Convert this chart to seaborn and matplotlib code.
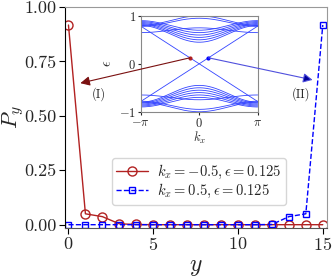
import numpy as np
import pandas as pd
import matplotlib
matplotlib.use("Agg")
import matplotlib.pyplot as plt
import seaborn as sns

# site probabilities for the two edge states
sites = list(range(16))
p_left = [0.917, 0.05, 0.037, 0.004, 0.001, 0.0, 0.0, 0.0, 0.0, 0.0, 0.0, 0.0, 0.0, 0.0, 0.0, 0.0]
p_right = [0.0, 0.0, 0.0, 0.0, 0.0, 0.0, 0.0, 0.0, 0.0, 0.0, 0.0, 0.0, 0.001, 0.037, 0.05, 0.917]

# inset band structure: bulk band energy at k=0 and at k=+-pi
band_mid = [0.45, 0.5, 0.55, 0.6, 0.65, 0.7, 0.75, 0.95, 1.0]
band_edge = [0.8, 0.82, 0.84, 0.86, 0.88, 0.9, 0.65, 0.78, 0.8]
edge_slope = 0.25
k_marks = [-0.5, 0.5]
e_marks = [0.125, 0.125]

sns.set_style("ticks")
plt.rcParams['font.family'] = 'serif'
plt.rcParams['font.serif'] = ['cmr10', 'DejaVu Serif']
plt.rcParams['mathtext.fontset'] = 'cm'
plt.rcParams['axes.formatter.use_mathtext'] = True

fig = plt.figure(figsize=(3.32, 2.78), dpi=100)
ax = fig.add_axes([0.196, 0.18, 0.789, 0.795])

df = pd.DataFrame({"y": sites, "left": p_left, "right": p_right})
sns.lineplot(data=df, x="y", y="left", ax=ax, color="#b22222", lw=1, marker="o",
             ms=6.5, mfc="none", mec="#b22222", mew=1,
             label=r"$k_x=-0.5, \epsilon=0.125$")
sns.lineplot(data=df, x="y", y="right", ax=ax, color="#0000ff", lw=1, ls="--", marker="s",
             ms=5, mfc="none", mec="#0000ff", mew=1,
             label=r"$k_x=0.5, \epsilon=0.125$")

ax.set_xlim(-0.2, 15.25)
ax.set_ylim(-0.015, 1.0)
ax.set_xticks([0, 5, 10, 15])
ax.set_yticks([0, 0.25, 0.5, 0.75, 1.0])
ax.set_yticklabels(["0.00", "0.25", "0.50", "0.75", "1.00"])
ax.tick_params(labelsize=13, length=4, width=0.8, color="black", pad=2)
ax.set_xlabel(r"$y$", fontsize=17, labelpad=2)
ax.set_ylabel(r"$P_y$", fontsize=16, labelpad=-1)
ax.spines["left"].set_color("black")
ax.spines["bottom"].set_color("#555555")
ax.spines["top"].set_color("#999999")
ax.spines["right"].set_color("#999999")

leg = ax.legend(loc="center", bbox_to_anchor=(0.51, 0.21), fontsize=10.5,
                frameon=True, handlelength=2.2, borderpad=0.3, labelspacing=0.1,
                handletextpad=0.6)
leg.get_frame().set_edgecolor("#cccccc")

ax.text(1.8, 0.6, "(I)", fontsize=9, ha="center", va="center")
ax.text(13.7, 0.6, "(II)", fontsize=9, ha="center", va="center")

# inset
ins = fig.add_axes([0.424, 0.598, 0.352, 0.345])
k = np.linspace(-np.pi, np.pi, 200)
for mid, edge in zip(band_mid, band_edge):
    shape = (1 + np.cos(k)) / 2
    e = edge + (mid - edge) * shape
    ins.plot(k, e, color="#3344ff", lw=0.6)
    ins.plot(k, -e, color="#3344ff", lw=0.6)
ins.plot(k, -edge_slope * k, color="#3344ff", lw=0.6)
ins.plot(k, edge_slope * k, color="#3344ff", lw=0.6)
ins.plot(k_marks[0], e_marks[0], "o", color="#b22222", ms=2)
ins.plot(k_marks[1], e_marks[1], "o", color="blue", ms=2)
ins.set_xlim(-np.pi, np.pi)
ins.set_ylim(-1, 1)
ins.set_xticks([-np.pi, 0, np.pi])
ins.set_xticklabels([r"$-\pi$", r"$0$", r"$\pi$"])
ins.set_yticks([-1, 0, 1])
ins.set_yticklabels([r"$-1$", r"$0$", r"$1$"])
ins.tick_params(labelsize=9, length=2.5, pad=1)
ins.set_xlabel(r"$k_x$", fontsize=9, labelpad=0)
ins.set_ylabel(r"$\epsilon$", fontsize=10, labelpad=3)
for s in ins.spines.values():
    s.set_color("#888888")

# arrows from the inset markers to the edges, drawn on top of the inset
ins.annotate("", xy=(0.7, 0.65), xycoords=ax.transData,
             xytext=(k_marks[0], e_marks[0]), textcoords="data",
             annotation_clip=False,
             arrowprops=dict(arrowstyle="-|>", color="#7a1010", lw=0.8,
                             mutation_scale=14, shrinkA=0, shrinkB=0))
ins.annotate("", xy=(14.4, 0.665), xycoords=ax.transData,
             xytext=(k_marks[1], e_marks[1]), textcoords="data",
             annotation_clip=False,
             arrowprops=dict(arrowstyle="-|>", color="#5050dd", lw=0.8,
                             mutation_scale=14, shrinkA=0, shrinkB=0, fc="#000099"))

fig.savefig("out.png", dpi=100)
